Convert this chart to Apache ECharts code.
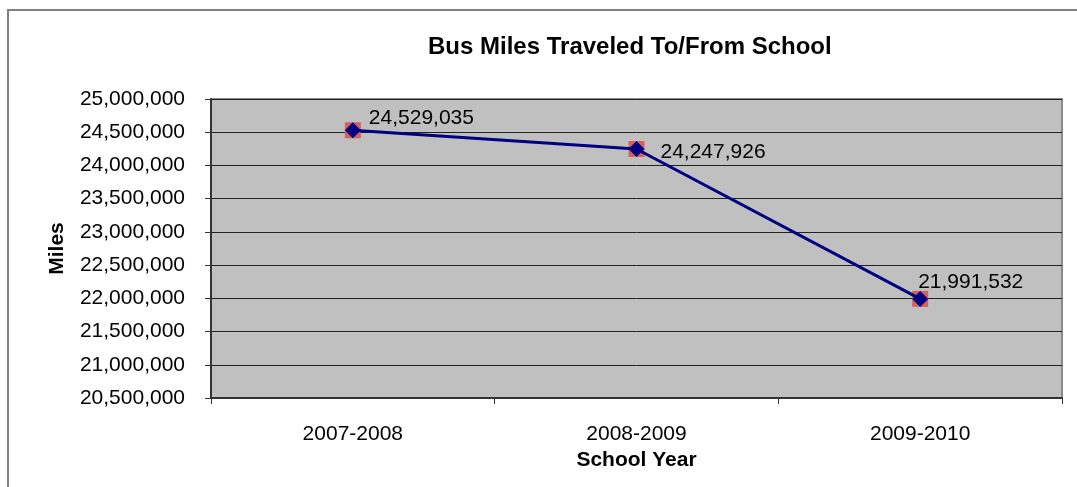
<!DOCTYPE html>
<html>
<head>
<meta charset="utf-8">
<script src="https://cdn.jsdelivr.net/npm/echarts@6/dist/echarts.min.js"></script>
<style>html,body{margin:0;padding:0;background:#fff}#c{width:1077px;height:487px}</style>
</head>
<body>
<div id="c"></div>
<script>
const categories = ['2007-2008', '2008-2009', '2009-2010'];
const miles = [24529035, 24247926, 21991532];
const labelOffsets = [[3, -12], [11, 3], [-15, -17]];
const yMin = 20500000, yMax = 25000000, yStep = 500000;

const FONT = '"Liberation Sans", Arial, sans-serif';
const chart = echarts.init(document.getElementById('c'), null, {renderer: 'canvas'});
const fmt = v => v.toLocaleString('en-US');

chart.setOption({
  animation: false,
  backgroundColor: '#fff',
  title: {
    text: 'Bus Miles Traveled To/From School',
    left: 423, top: 30,
    textStyle: {fontFamily: FONT, fontSize: 24, fontWeight: 'bold', color: '#000'}
  },
  graphic: [
    {type: 'rect', shape: {x: 8, y: 10, width: 1200, height: 600}, style: {fill: 'none', stroke: '#808080', lineWidth: 2}, z: -10}
  ],
  grid: {left: 211, top: 99, right: 15, bottom: 89, show: true, backgroundColor: '#c0c0c0', borderColor: '#8a8a8a', borderWidth: 2},
  xAxis: {
    type: 'category', data: categories, boundaryGap: true,
    name: 'School Year', nameLocation: 'middle', nameGap: 51,
    nameTextStyle: {fontFamily: FONT, fontSize: 21, fontWeight: 'bold', color: '#000'},
    axisLine: {lineStyle: {color: '#333', width: 2}},
    axisTick: {show: true, length: 6, lineStyle: {color: '#333', width: 1}},
    axisLabel: {fontFamily: FONT, fontSize: 21, color: '#000', margin: 26},
    splitLine: {show: false}
  },
  yAxis: {
    type: 'value', min: yMin, max: yMax, interval: yStep,
    name: 'Miles', nameLocation: 'middle', nameGap: 143, nameRotate: 90,
    nameTextStyle: {fontFamily: FONT, fontSize: 21, fontWeight: 'bold', color: '#000'},
    axisLine: {show: true, lineStyle: {color: '#333', width: 2}},
    axisTick: {show: true, length: 6, lineStyle: {color: '#333', width: 1}},
    axisLabel: {fontFamily: FONT, fontSize: 21, color: '#000', margin: 26, formatter: v => fmt(v)},
    splitLine: {show: true, lineStyle: {color: '#222', width: 1}}
  },
  series: [
    {
      type: 'scatter', data: miles, symbol: 'rect', symbolSize: 16,
      itemStyle: {color: '#d8605c', opacity: 1}, z: 2, silent: true
    },
    {
      type: 'line', data: miles.map((v, i) => ({value: v, label: {offset: labelOffsets[i]}})),
      symbol: 'diamond', symbolSize: 16,
      lineStyle: {color: '#000080', width: 3},
      itemStyle: {color: '#000080'},
      label: {show: true, position: 'right', distance: 5, fontFamily: FONT, fontSize: 21, color: '#000', formatter: p => fmt(p.value)},
      z: 3
    }
  ]
});
</script>
</body>
</html>
